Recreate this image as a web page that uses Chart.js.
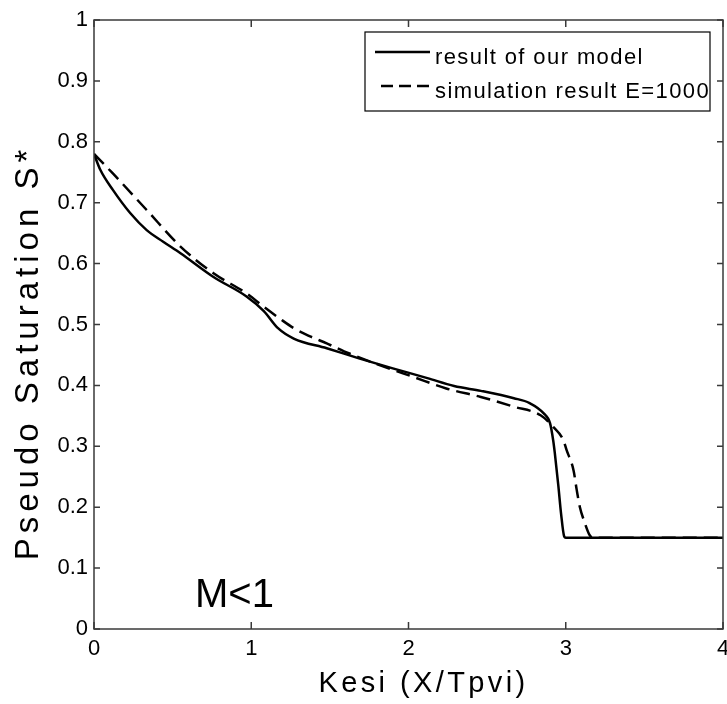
<!DOCTYPE html>
<html>
<head>
<meta charset="utf-8">
<script src="https://cdn.jsdelivr.net/npm/chart.js@4.4.1/dist/chart.umd.min.js"></script>
<style>
  body { margin: 0; background: #fff; }
  canvas { display: block; }
</style>
</head>
<body>
<canvas id="satChart" width="727" height="704"></canvas>
<script>
// values
const kesiModel = [0, 0.04, 0.12, 0.23, 0.335, 0.44, 0.55, 0.76, 0.97, 1.08, 1.17, 1.27, 1.48, 1.69, 1.9, 2.12, 2.29, 2.46, 2.67, 2.77, 2.86, 2.9, 2.92, 2.93, 2.953, 2.97, 2.99, 3.0, 4.0];
const satModel  = [0.78, 0.754, 0.721, 0.683, 0.655, 0.636, 0.617, 0.578, 0.546, 0.522, 0.494, 0.477, 0.461, 0.444, 0.428, 0.412, 0.399, 0.391, 0.379, 0.371, 0.354, 0.338, 0.31, 0.29, 0.235, 0.19, 0.152, 0.15, 0.15];

const kesiSim = [0, 0.12, 0.335, 0.55, 0.76, 0.97, 1.08, 1.18, 1.27, 1.37, 1.48, 1.59, 1.82, 2.03, 2.24, 2.46, 2.67, 2.84, 2.92, 2.985, 3.005, 3.05, 3.07, 3.09, 3.12, 3.15, 3.17, 4.0];
const satSim  = [0.78, 0.748, 0.688, 0.628, 0.584, 0.551, 0.529, 0.51, 0.494, 0.481, 0.469, 0.456, 0.433, 0.414, 0.395, 0.381, 0.365, 0.351, 0.332, 0.31, 0.294, 0.26, 0.228, 0.2, 0.175, 0.155, 0.15, 0.15];

const seriesNames = ['result of our model', 'simulation result E=1000'];
const noteText = 'M<1';
const notePos = [0.642, 0.036];

const axisColor = '#3a3a3a';
const fontFamily = '"Liberation Sans", Arial, sans-serif';

// axis titles with letter spacing and a small shift (the reference titles are wide)
const baseDrawTitle = Chart.Scale.prototype.drawTitle;
Chart.Scale.prototype.drawTitle = function () {
  const ctx = this.ctx;
  const t = this.options.title;
  ctx.save();
  ctx.letterSpacing = (t.letterSpacing || 0) + 'px';
  ctx.translate(t.shiftX || 0, t.shiftY || 0);
  baseDrawTitle.call(this);
  ctx.restore();
};

const toPoints = (xs, ys) => xs.map((x, i) => ({x: x, y: ys[i]}));

// box with inward ticks on all four sides, legend box and the M<1 note
const matlabFrame = {
  id: 'matlabFrame',
  afterDraw(chart) {
    const {ctx, chartArea: a, scales: {x, y}} = chart;
    ctx.save();
    ctx.strokeStyle = axisColor;
    ctx.lineWidth = 1.5;
    ctx.strokeRect(a.left, a.top, a.right - a.left, a.bottom - a.top);
    ctx.beginPath();
    x.ticks.forEach(t => {
      const px = x.getPixelForValue(t.value);
      ctx.moveTo(px, a.bottom); ctx.lineTo(px, a.bottom - 7);
      ctx.moveTo(px, a.top); ctx.lineTo(px, a.top + 7);
    });
    y.ticks.forEach(t => {
      const py = y.getPixelForValue(t.value);
      ctx.moveTo(a.left, py); ctx.lineTo(a.left + 6, py);
      ctx.moveTo(a.right, py); ctx.lineTo(a.right - 6, py);
    });
    ctx.stroke();

    // legend
    const lx = a.right - 358, ly = a.top + 12, lw = 345, lh = 79;
    ctx.fillStyle = '#fff';
    ctx.fillRect(lx, ly, lw, lh);
    ctx.strokeStyle = '#000';
    ctx.lineWidth = 1.2;
    ctx.strokeRect(lx, ly, lw, lh);
    ctx.font = '22px ' + fontFamily;
    ctx.letterSpacing = '1.4px';
    ctx.textBaseline = 'alphabetic';
    ctx.textAlign = 'left';
    chart.data.datasets.forEach((ds, i) => {
      const rowY = ly + 20 + i * 34;
      ctx.strokeStyle = ds.borderColor;
      ctx.lineWidth = ds.borderWidth;
      ctx.setLineDash(i === 0 ? [] : [12, 6]);
      ctx.beginPath();
      ctx.moveTo(lx + (i === 0 ? 10 : 16), rowY);
      ctx.lineTo(lx + 65, rowY);
      ctx.stroke();
      ctx.setLineDash([]);
      ctx.fillStyle = '#000';
      ctx.fillText(ds.label, lx + 70, rowY + 12);
    });

    // note
    ctx.letterSpacing = '0px';
    ctx.font = '40px ' + fontFamily;
    ctx.fillStyle = '#000';
    ctx.fillText(noteText, x.getPixelForValue(notePos[0]), y.getPixelForValue(notePos[1]));
    ctx.restore();
  }
};

const ctx = document.getElementById('satChart').getContext('2d');

new Chart(ctx, {
  type: 'line',
  data: {
    datasets: [{
      label: seriesNames[0],
      data: toPoints(kesiModel, satModel),
      borderColor: '#000',
      borderWidth: 2.5,
      pointRadius: 0,
      cubicInterpolationMode: 'monotone'
    }, {
      label: seriesNames[1],
      data: toPoints(kesiSim, satSim),
      borderColor: '#000',
      borderWidth: 2.5,
      borderDash: [14, 7],
      pointRadius: 0,
      cubicInterpolationMode: 'monotone'
    }]
  },
  options: {
    responsive: false,
    animation: false,
    layout: { padding: { left: 0, top: 20, right: 4, bottom: 0 } },
    plugins: {
      legend: { display: false },
      tooltip: { enabled: false }
    },
    scales: {
      x: {
        type: 'linear',
        min: 0,
        max: 4,
        grid: { display: false, drawTicks: false },
        border: { display: false },
        ticks: {
          stepSize: 1,
          padding: 7,
          color: '#000',
          font: { family: fontFamily, size: 22 }
        },
        title: {
          display: true,
          text: 'Kesi (X/Tpvi)',
          color: '#000',
          letterSpacing: 3.4,
          shiftX: 15,
          font: { family: fontFamily, size: 29 },
          padding: { top: 0, bottom: 3 }
        },
        afterFit: s => { s.height = 75; s.paddingLeft = 0; s.paddingRight = 0; }
      },
      y: {
        min: 0,
        max: 1,
        grid: { display: false, drawTicks: false },
        border: { display: false },
        ticks: {
          stepSize: 0.1,
          padding: 6,
          color: '#000',
          font: { family: fontFamily, size: 22 },
          callback: v => String(Number(v.toFixed(1)))
        },
        title: {
          display: true,
          text: 'Pseudo Saturation S*',
          color: '#000',
          letterSpacing: 5,
          shiftY: 28,
          font: { family: fontFamily, size: 33 },
          padding: { top: 9, bottom: 0 }
        },
        afterFit: s => { s.width = 94; }
      }
    }
  },
  plugins: [matlabFrame]
});
</script>
</body>
</html>
